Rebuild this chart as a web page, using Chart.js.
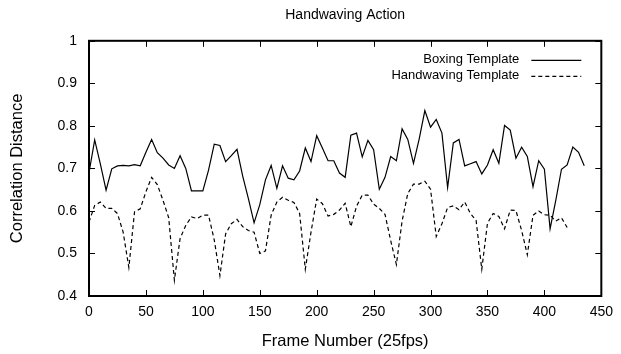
<!DOCTYPE html>
<html>
<head>
<meta charset="utf-8">
<script src="https://cdn.jsdelivr.net/npm/chart.js@4.4.1/dist/chart.umd.min.js"></script>
<style>
  html, body { margin: 0; padding: 0; background: #fff; }
  #wrap { width: 621px; height: 354px; }
</style>
</head>
<body>
<div id="wrap"><canvas id="c" width="621" height="354"></canvas></div>
<script>
const chartTitle = 'Handwaving Action';
const xAxisTitle = 'Frame Number (25fps)';
const yAxisTitle = 'Correlation Distance';
const seriesNames = ['Boxing Template', 'Handwaving Template'];

const xTickValues = [0, 50, 100, 150, 200, 250, 300, 350, 400, 450];
const xTickLabels = ['0', '50', '100', '150', '200', '250', '300', '350', '400', '450'];
const yTickValues = [0.4, 0.5, 0.6, 0.7, 0.8, 0.9, 1.0];
const yTickLabels = ['0.4', '0.5', '0.6', '0.7', '0.8', '0.9', '1'];

const frames = [
  0, 5, 10, 15, 20, 25, 30, 35, 40, 45,
  50, 55, 60, 65, 70, 75, 80, 85, 90, 95,
  100, 105, 110, 115, 120, 125, 130, 135, 140, 145,
  150, 155, 160, 165, 170, 175, 180, 185, 190, 195,
  200, 205, 210, 215, 220, 225, 230, 235, 240, 245,
  250, 255, 260, 265, 270, 275, 280, 285, 290, 295,
  300, 305, 310, 315, 320, 325, 330, 335, 340, 345,
  350, 355, 360, 365, 370, 375, 380, 385, 390, 395,
  400, 405, 410, 415, 420, 425, 430, 435
];

const boxingValues = [
  0.690, 0.767, 0.710, 0.649, 0.699, 0.706, 0.707, 0.706, 0.709, 0.706,
  0.738, 0.768, 0.737, 0.724, 0.708, 0.700, 0.730, 0.700, 0.647, 0.647,
  0.647, 0.696, 0.757, 0.754, 0.716, 0.730, 0.745, 0.682, 0.629, 0.572,
  0.615, 0.673, 0.707, 0.653, 0.706, 0.677, 0.673, 0.694, 0.748, 0.716,
  0.777, 0.748, 0.718, 0.718, 0.689, 0.679, 0.778, 0.783, 0.727, 0.766,
  0.744, 0.651, 0.679, 0.728, 0.718, 0.793, 0.768, 0.712, 0.769, 0.836,
  0.797, 0.815, 0.783, 0.655, 0.760, 0.768, 0.706, 0.711, 0.716, 0.687,
  0.708, 0.744, 0.712, 0.801, 0.790, 0.724, 0.750, 0.728, 0.657, 0.718,
  0.698, 0.558, 0.625, 0.698, 0.708, 0.750, 0.738, 0.706
];

const handwavingValues = [
  0.574, 0.613, 0.621, 0.606, 0.606, 0.594, 0.550, 0.467, 0.598, 0.605,
  0.645, 0.679, 0.662, 0.625, 0.584, 0.437, 0.535, 0.566, 0.586, 0.582,
  0.590, 0.590, 0.532, 0.448, 0.546, 0.570, 0.580, 0.563, 0.554, 0.550,
  0.500, 0.506, 0.590, 0.621, 0.632, 0.625, 0.620, 0.594, 0.463, 0.550,
  0.628, 0.617, 0.588, 0.592, 0.602, 0.618, 0.563, 0.611, 0.637, 0.637,
  0.616, 0.606, 0.592, 0.530, 0.474, 0.576, 0.641, 0.663, 0.663, 0.670,
  0.651, 0.540, 0.570, 0.608, 0.612, 0.603, 0.621, 0.594, 0.578, 0.463,
  0.571, 0.594, 0.587, 0.558, 0.602, 0.601, 0.554, 0.497, 0.590, 0.600,
  0.591, 0.590, 0.576, 0.584, 0.561
];

const FONT = 'Liberation Sans, Arial, Helvetica, sans-serif';

function toPoints(vals) {
  return vals.map((v, i) => ({ x: frames[i], y: v }));
}

const framePlugin = {
  id: 'frameTicksLegend',
  afterDatasetsDraw(chart) {
    const { ctx, chartArea: a, scales } = chart;
    const xs = scales.x, ys = scales.y;
    ctx.save();
    ctx.strokeStyle = '#000';
    ctx.lineWidth = 1;
    ctx.setLineDash([]);
    ctx.beginPath();
    xTickValues.forEach(v => {
      const px = Math.round(xs.getPixelForValue(v)) + 0.5;
      ctx.moveTo(px, a.bottom); ctx.lineTo(px, a.bottom - 6);
      ctx.moveTo(px, a.top); ctx.lineTo(px, a.top + 6);
    });
    yTickValues.forEach(v => {
      const py = Math.round(ys.getPixelForValue(v)) + 0.5;
      ctx.moveTo(a.left, py); ctx.lineTo(a.left + 6, py);
      ctx.moveTo(a.right, py); ctx.lineTo(a.right - 6, py);
    });
    ctx.stroke();
    ctx.lineWidth = 2;
    ctx.strokeRect(a.left, a.top, a.right - a.left, a.bottom - a.top);

    // legend inside top-right
    ctx.font = '13px ' + FONT;
    ctx.fillStyle = '#000';
    ctx.textAlign = 'right';
    ctx.textBaseline = 'middle';
    chart.data.datasets.forEach((ds, i) => {
      const yy = a.top + 19 + i * 16;
      const textRight = a.right - 82;
      ctx.fillText(ds.label, textRight, yy);
      ctx.beginPath();
      ctx.lineWidth = 1.2;
      ctx.setLineDash(ds.borderDash || []);
      ctx.moveTo(textRight + 12, yy + 0.5);
      ctx.lineTo(textRight + 62, yy + 0.5);
      ctx.stroke();
    });
    ctx.restore();
  }
};

new Chart(document.getElementById('c'), {
  type: 'line',
  data: {
    datasets: [
      {
        label: seriesNames[0],
        data: toPoints(boxingValues),
        borderColor: '#000',
        borderWidth: 1.2,
        pointRadius: 0,
        tension: 0,
        fill: false
      },
      {
        label: seriesNames[1],
        data: toPoints(handwavingValues),
        borderColor: '#000',
        borderWidth: 1.2,
        borderDash: [4, 3],
        pointRadius: 0,
        tension: 0,
        fill: false
      }
    ]
  },
  options: {
    responsive: false,
    animation: false,
    events: [],
    layout: { padding: { left: 0, right: 19, top: 0, bottom: 0 } },
    plugins: {
      legend: { display: false },
      tooltip: { enabled: false },
      title: {
        display: true,
        text: chartTitle,
        fullSize: false,
        color: '#000',
        font: { family: FONT, size: 14, weight: 'normal', lineHeight: 1.2 },
        padding: { top: 7, bottom: 17 }
      }
    },
    scales: {
      x: {
        type: 'linear',
        min: 0,
        max: 450,
        afterFit(scale) { scale.height = 58; },
        afterBuildTicks(scale) { scale.ticks = xTickValues.map(v => ({ value: v })); },
        grid: { display: false, drawTicks: false },
        border: { display: false },
        ticks: {
          color: '#000',
          padding: 8,
          maxRotation: 0,
          autoSkip: false,
          font: { family: FONT, size: 14 },
          callback: (v) => { const i = xTickValues.indexOf(v); return i >= 0 ? xTickLabels[i] : ''; }
        },
        title: {
          display: true,
          text: xAxisTitle,
          color: '#000',
          font: { family: FONT, size: 16.5, lineHeight: 1.2 },
          padding: { top: 0, bottom: 3 }
        }
      },
      y: {
        type: 'linear',
        min: 0.4,
        max: 1.0,
        afterFit(scale) { scale.width = 89; },
        afterBuildTicks(scale) { scale.ticks = yTickValues.map(v => ({ value: v })); },
        grid: { display: false, drawTicks: false },
        border: { display: false },
        ticks: {
          color: '#000',
          padding: 12,
          autoSkip: false,
          font: { family: FONT, size: 14 },
          callback: (v) => {
            const i = yTickValues.findIndex(t => Math.abs(t - v) < 1e-9);
            return i >= 0 ? yTickLabels[i] : '';
          }
        },
        title: {
          display: true,
          text: yAxisTitle,
          color: '#000',
          font: { family: FONT, size: 16.5, lineHeight: 1.2 },
          padding: { top: 8, bottom: 0 }
        }
      }
    }
  },
  plugins: [framePlugin]
});
</script>
</body>
</html>
